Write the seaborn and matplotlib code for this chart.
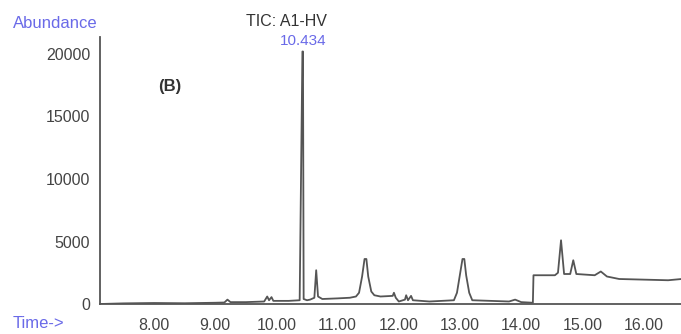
import numpy as np
import pandas as pd
import matplotlib
matplotlib.use("Agg")
import matplotlib.pyplot as plt
from matplotlib.ticker import MultipleLocator
import seaborn as sns

sns.set_style("white")
plt.rcParams['font.family'] = ['Liberation Sans', 'DejaVu Sans']

# 層析圖 (TIC) 讀取點：時間 (min) 與 強度 (abundance)
time_min = [7.12, 7.5, 8.0, 8.5, 9.0, 9.15, 9.2, 9.25, 9.5, 9.8, 9.85, 9.88, 9.92, 9.95,
            10.2, 10.38, 10.425, 10.434, 10.445, 10.5, 10.55, 10.62, 10.65, 10.68, 10.75,
            11.0, 11.2, 11.3, 11.35, 11.40, 11.44, 11.47, 11.50, 11.55, 11.6, 11.7, 11.9,
            11.92, 11.95, 12.0, 12.1, 12.12, 12.15, 12.2, 12.23, 12.5, 12.9, 12.95, 13.0,
            13.04, 13.07, 13.1, 13.15, 13.2, 13.5, 13.8, 13.9, 14.0, 14.19, 14.2, 14.55,
            14.6, 14.65, 14.7, 14.8, 14.85, 14.9, 15.2, 15.3, 15.4, 15.6, 16.0, 16.4, 16.62]
abundance = [0, 50, 80, 60, 100, 120, 350, 150, 150, 200, 600, 300, 550, 250,
             250, 300, 20200, 20200, 400, 300, 350, 500, 2700, 600, 400,
             450, 500, 600, 900, 2200, 3600, 3600, 2200, 1000, 700, 600, 650,
             900, 500, 200, 350, 700, 300, 650, 300, 200, 300, 900, 2400,
             3600, 3600, 2300, 900, 300, 250, 200, 350, 150, 100, 2300, 2300,
             2500, 5100, 2400, 2400, 3500, 2400, 2300, 2600, 2200, 2000, 1950, 1900, 2000]

xticks = [8, 9, 10, 11, 12, 13, 14, 15, 16]
yticks = [0, 5000, 10000, 15000, 20000]

df = pd.DataFrame({'time': time_min, 'abundance': abundance})

fig = plt.figure(figsize=(6.81, 3.34), dpi=100)
ax = fig.add_axes([100 / 681, 30 / 334, 581 / 681, 267 / 334])

sns.lineplot(data=df, x='time', y='abundance', ax=ax, color='#555555', linewidth=1.3)

ax.set_xlim(7.118, 16.61)
ax.set_ylim(0, 21360)
ax.set_xticks(xticks)
ax.set_xticklabels([f'{t:.2f}' for t in xticks])
ax.set_yticks(yticks)
ax.xaxis.set_minor_locator(MultipleLocator(0.2))
ax.set_xlabel('')
ax.set_ylabel('')

for s in ['top', 'right']:
    ax.spines[s].set_visible(False)
for s in ['left', 'bottom']:
    ax.spines[s].set_color('#555555')
    ax.spines[s].set_linewidth(1.3)

ax.tick_params(axis='both', which='major', direction='out', length=5, width=1,
               color='#555555', labelsize=11.5, labelcolor='#444444', pad=5)
ax.tick_params(axis='x', which='minor', direction='out', length=3, width=1, color='#555555')
ax.tick_params(axis='y', which='major', length=2)

# 文字標示
fig.text(13 / 681, 1 - 23 / 334, 'Abundance', color='#6a6ae8', fontsize=12, ha='left', va='center')
fig.text(13 / 681, 1 - 324 / 334, 'Time->', color='#6a6ae8', fontsize=12, ha='left', va='center')
fig.text(286 / 681, 1 - 22 / 334, 'TIC: A1-HV', color='#333333', fontsize=11.5, ha='center', va='center')
fig.text(303 / 681, 1 - 41 / 334, '10.434', color='#6a6ae8', fontsize=11, ha='center', va='center')
fig.text(170 / 681, 1 - 87 / 334, '(B)', color='#333333', fontsize=12, fontweight='bold',
         ha='center', va='center')

plt.savefig('out.png', dpi=100)
plt.close()
